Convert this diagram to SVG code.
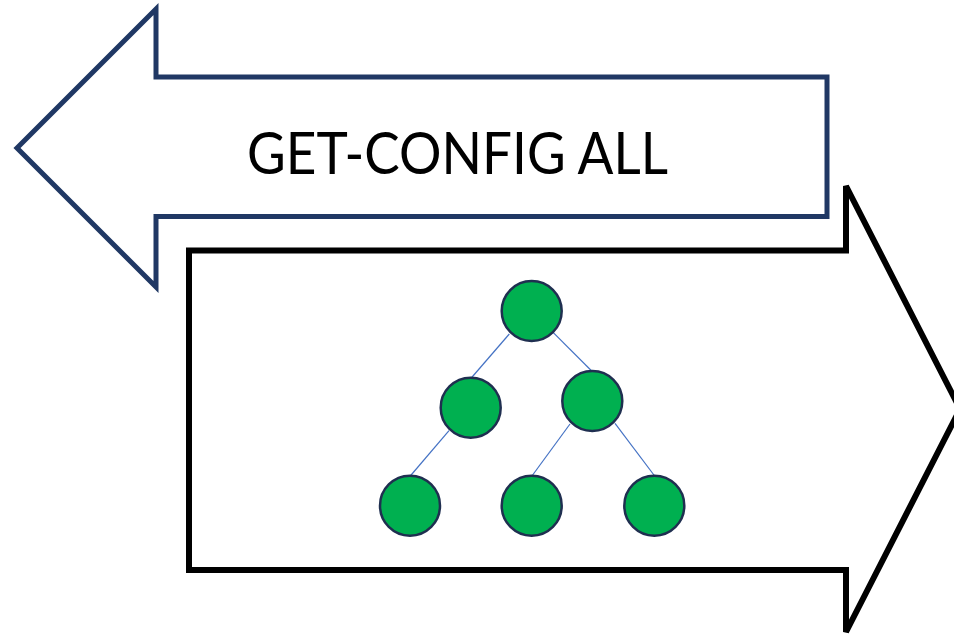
<svg xmlns="http://www.w3.org/2000/svg" width="954" height="638" viewBox="0 0 954 638">
<style>
.leaf{fill:#00B050;stroke:#1F2F50;stroke-width:2.5}
.edge{stroke:#4472C4;stroke-width:1.2;fill:none}
.lbl{font-family:Lato,"Liberation Sans",sans-serif;font-size:58px;fill:#000}
</style>
<rect width="954" height="638" fill="#fff"/>
<g id="request-arrow">
<polygon points="17,148 156,9 156,77 827,77 827,216.5 156,216.5 156,287" fill="#fff" stroke="#203864" stroke-width="5" stroke-linejoin="miter"/>
<text class="lbl" x="247" y="174" textLength="421" lengthAdjust="spacingAndGlyphs">GET-CONFIG ALL</text>
</g>
<g id="response-arrow">
<polygon points="189,250.5 846,250.5 846,186 960,409 846,632 846,570 189,570" fill="#fff" stroke="#000" stroke-width="6" stroke-linejoin="miter"/>
</g>
<g id="connectors">
<line class="edge" x1="509.3" y1="334" x2="471.7" y2="377.5"/>
<line class="edge" x1="553.3" y1="332.7" x2="591.7" y2="371"/>
<line class="edge" x1="449" y1="430.7" x2="410.7" y2="475.5"/>
<line class="edge" x1="570" y1="424" x2="532.3" y2="475.5"/>
<line class="edge" x1="615" y1="423.3" x2="654.3" y2="475.5"/>
</g>
<g id="node-root"><circle class="leaf" cx="531.7" cy="311" r="30"/></g>
<g id="node-left"><circle class="leaf" cx="470.7" cy="407.7" r="30"/></g>
<g id="node-right"><circle class="leaf" cx="592.3" cy="401" r="30"/></g>
<g id="node-ll"><circle class="leaf" cx="410" cy="505.7" r="30"/></g>
<g id="node-rl"><circle class="leaf" cx="531.7" cy="505.7" r="30"/></g>
<g id="node-rr"><circle class="leaf" cx="654.3" cy="505.7" r="30"/></g>
</svg>
